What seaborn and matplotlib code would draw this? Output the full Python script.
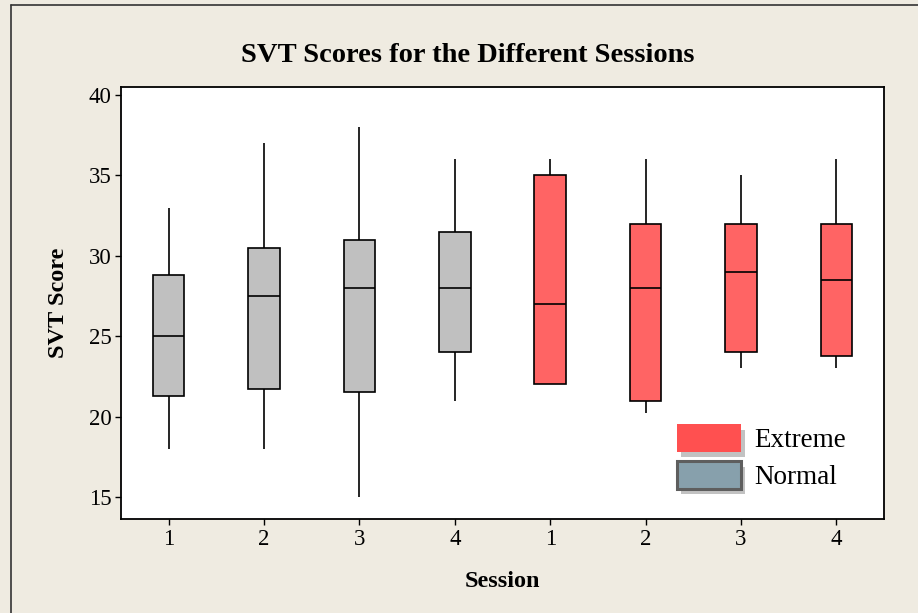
import matplotlib
matplotlib.use("Agg")
import matplotlib.pyplot as plt
from matplotlib.patches import Patch
from matplotlib.lines import Line2D
import matplotlib.patheffects as pe
import numpy as np
import pandas as pd
import seaborn as sns

# Five-number summaries per group/session: low whisker, Q1, median, Q3, high whisker
groups = ["Normal"] * 4 + ["Extreme"] * 4
sessions = ["1", "2", "3", "4", "1", "2", "3", "4"]
low = [18.0, 18.0, 15.0, 21.0, 22.0, 20.2, 23.0, 23.0]
q1 = [21.3, 21.7, 21.5, 24.0, 22.0, 21.0, 24.0, 23.75]
median = [25.0, 27.5, 28.0, 28.0, 27.0, 28.0, 29.0, 28.5]
q3 = [28.8, 30.5, 31.0, 31.5, 35.0, 32.0, 32.0, 32.0]
high = [33.0, 37.0, 38.0, 36.0, 36.0, 36.0, 35.0, 36.0]

box_colors = {"Normal": "#C0C0C0", "Extreme": "#FF6464"}
legend_colors = {"Extreme": "#FF5050", "Normal": "#87A0AC"}

# Long-form table: the five summary values per box reproduce its quartiles exactly
rows = []
for i, (g, s) in enumerate(zip(groups, sessions)):
    slot = f"{g}-{s}"
    for v in (low[i], q1[i], median[i], q3[i], high[i]):
        rows.append({"slot": slot, "group": g, "score": v})
df = pd.DataFrame(rows)
order = [f"{g}-{s}" for g, s in zip(groups, sessions)]

sns.set_style("ticks")
plt.rcParams["font.family"] = ["Liberation Serif", "DejaVu Serif"]
plt.rcParams["text.color"] = "black"
plt.rcParams["axes.labelcolor"] = "black"

fig = plt.figure(figsize=(9.18, 6.13), dpi=100)
fig.patch.set_facecolor("#EFEBE1")
ax = fig.add_axes([121 / 918, 1 - 519 / 613, (884 - 121) / 918, (519 - 87) / 613])
ax.set_facecolor("white")

sns.boxplot(
    data=df, x="slot", y="score", hue="group", order=order,
    palette=box_colors, saturation=1, dodge=False, width=0.33, whis=(0, 100),
    showcaps=False, showfliers=False, legend=False, ax=ax,
    linewidth=1.2, linecolor="black",
    medianprops={"color": "black", "linewidth": 1.2},
)

ax.set_ylim(13.63, 40.5)
ax.set_xlim(-0.5, 7.5)
ax.set_yticks([15, 20, 25, 30, 35, 40])
ax.set_xticks(range(len(sessions)))
ax.set_xticklabels(sessions)
ax.tick_params(axis="both", labelsize=16.5, length=4, width=1, color="black",
               labelcolor="black", direction="out", pad=3)
for sp in ax.spines.values():
    sp.set_visible(True)
    sp.set_color("black")
    sp.set_linewidth(1.3)

ax.set_xlabel("Session", fontsize=17.5, fontweight="bold", labelpad=15)
ax.set_ylabel("SVT Score", fontsize=17.5, fontweight="bold", labelpad=14)

fig.text(468 / 918, 1 - 55 / 613, "SVT Scores for the Different Sessions",
         ha="center", va="center", fontsize=20.5, fontweight="bold")

# Legend with shadowed swatches
shadow = [pe.SimplePatchShadow(offset=(3, -4), shadow_rgbFace="#9A9A9A", alpha=0.6),
          pe.Normal()]
handles = [
    Patch(facecolor=legend_colors["Extreme"], edgecolor=legend_colors["Extreme"],
          linewidth=0, label="Extreme", path_effects=shadow),
    Patch(facecolor=legend_colors["Normal"], edgecolor="#5E5E5E",
          linewidth=2.2, label="Normal", path_effects=shadow),
]
ax.legend(handles=handles, loc="upper left",
          bbox_to_anchor=((677 - 121) / 763, (519 - 424) / 432),
          frameon=False, fontsize=19.5, handlelength=2.37, handleheight=1.2,
          handletextpad=0.48, labelspacing=0.3, borderpad=0, borderaxespad=0)

# Outer frame lines along the top and left edges of the figure
fig.add_artist(Line2D([11 / 918, 1], [1 - 5 / 613, 1 - 5 / 613], color="#333333",
                      linewidth=1.2, transform=fig.transFigure))
fig.add_artist(Line2D([11 / 918, 11 / 918], [0, 1 - 5 / 613], color="#333333",
                      linewidth=1.2, transform=fig.transFigure))

fig.savefig("out.png", dpi=100, facecolor=fig.get_facecolor())
